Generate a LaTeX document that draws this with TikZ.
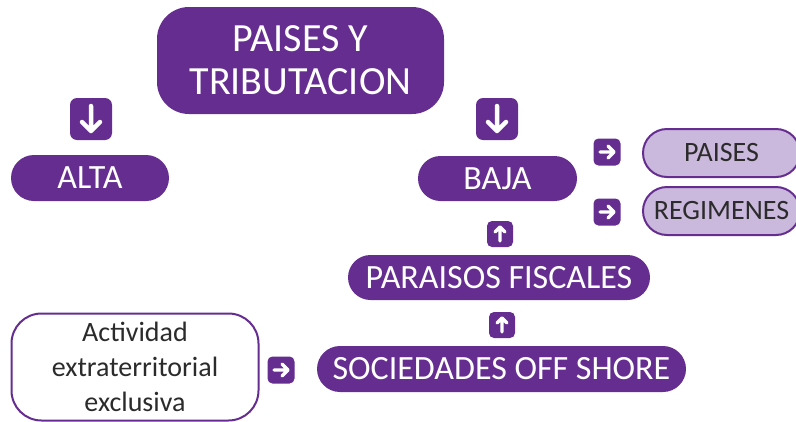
\documentclass[tikz,border=0pt]{standalone}
\usepackage{fontspec}
\setmainfont{Carlito}
\definecolor{pp}{HTML}{662D91}
\definecolor{lp}{HTML}{CBB9DD}
\definecolor{tg}{HTML}{2B2B2B}
\begin{document}
\begin{tikzpicture}[x=1pt,y=-1pt,
  pill/.style={fill=pp,text=white,inner sep=0pt,align=center},
  lpill/.style={fill=lp,draw=pp,line width=2pt,text=tg,inner sep=0pt,align=center,font=\fontsize{28}{30}\selectfont},
  icon/.style={fill=pp,inner sep=0pt,rounded corners=7pt},
  arr/.style={draw=white,line width=4.5pt,line cap=round,line join=round},
  sarr/.style={draw=white,line width=3.2pt,line cap=round,line join=round}]
\useasboundingbox (0,0) rectangle (796,421);
% main nodes
\node[pill,minimum width=287pt,minimum height=107pt,rounded corners=32pt,
  font=\fontsize{40}{43}\selectfont] (title) at (300.5,60.5) {PAISES Y\\TRIBUTACION};
\node[pill,minimum width=158pt,minimum height=46pt,rounded corners=23pt,
  font=\fontsize{34}{36}\selectfont] (alta) at (90,178) {ALTA};
\node[pill,minimum width=159pt,minimum height=45pt,rounded corners=22.5pt,
  font=\fontsize{34}{36}\selectfont] (baja) at (497.5,178.5) {BAJA};
\node[lpill,minimum width=157pt,minimum height=48pt,rounded corners=24pt] (paises) at (721.5,153) {PAISES};
\node[lpill,minimum width=157pt,minimum height=48pt,rounded corners=24pt] (reg) at (721.5,211) {REGIMENES};
\node[pill,minimum width=302pt,minimum height=45pt,rounded corners=22.5pt,
  font=\fontsize{34}{36}\selectfont] (par) at (499,277.5) {PARAISOS FISCALES};
\node[pill,minimum width=369pt,minimum height=46pt,rounded corners=23pt,
  font=\fontsize{34}{36}\selectfont] (soc) at (501.5,369) {SOCIEDADES OFF SHORE};
\node[draw=pp,line width=2pt,fill=white,text=tg,inner sep=0pt,align=center,
  minimum width=247pt,minimum height=107pt,rounded corners=30pt,
  font=\fontsize{28}{35}\selectfont] (act) at (135,367) {Actividad\\extraterritorial\\exclusiva};
% icons
\node[icon,minimum size=42pt] (d1) at (91,119) {};
\node[icon,minimum size=42pt] (d2) at (497,119) {};
\node[icon,minimum size=27pt,rounded corners=5pt] (r1) at (607,152) {};
\node[icon,minimum size=27pt,rounded corners=5pt] (r2) at (607,212) {};
\node[icon,minimum size=27pt,rounded corners=5pt] (r3) at (281,370) {};
\node[icon,minimum size=26pt,rounded corners=5pt] (u1) at (500,234) {};
\node[icon,minimum size=26pt,rounded corners=5pt] (u2) at (502,325) {};
% glyphs
\draw[arr,shift={(d1.center)}] (0,-13) -- (0,12) (-9,3) -- (0,12) -- (9,3);
\draw[arr,shift={(d2.center)}] (0,-13) -- (0,12) (-9,3) -- (0,12) -- (9,3);
\foreach \n in {r1,r2,r3}
  \draw[sarr,shift={(\n.center)}] (-7,0) -- (7,0) (1,-6) -- (7,0) -- (1,6);
\foreach \n in {u1,u2}
  \draw[sarr,shift={(\n.center)}] (0,7) -- (0,-7) (-5,-2) -- (0,-7) -- (5,-2);
\end{tikzpicture}
\end{document}
